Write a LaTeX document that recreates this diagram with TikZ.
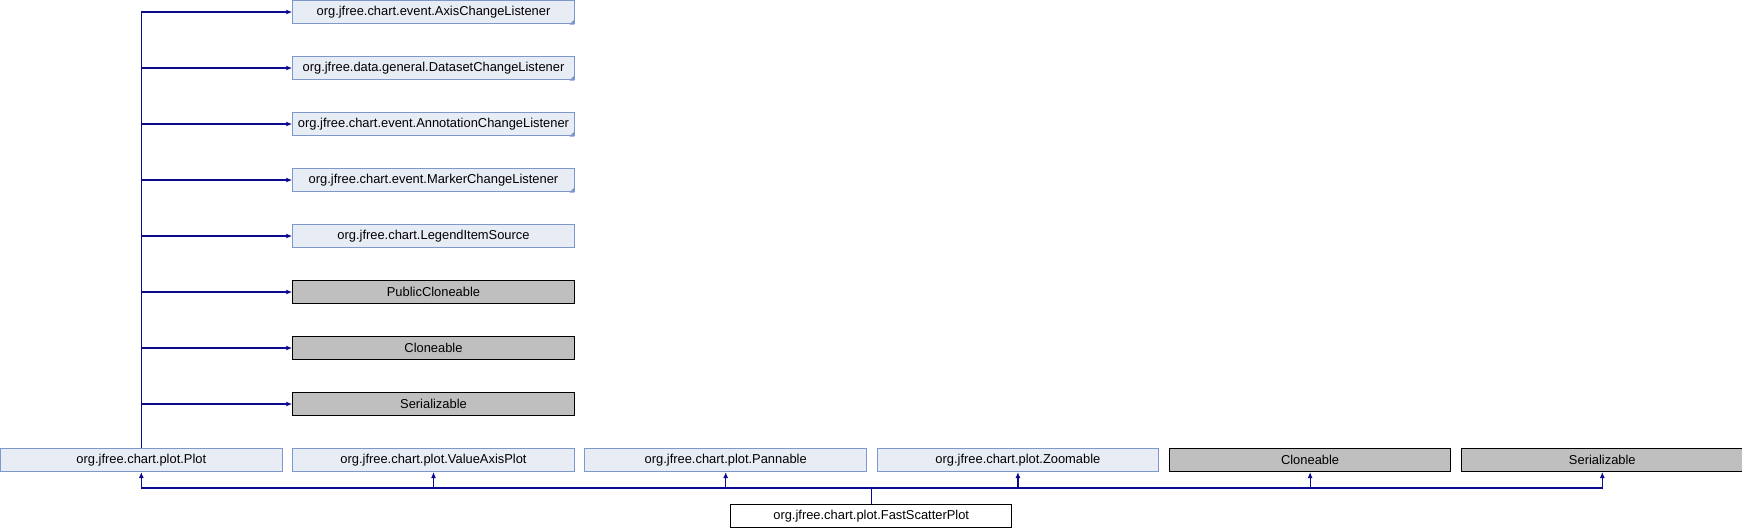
\documentclass[tikz,border=0pt]{standalone}
\usepackage{fontspec}
\setmainfont{Liberation Sans}
\usetikzlibrary{arrows.meta,calc}
\definecolor{edgecol}{HTML}{0B0B8F}
\definecolor{extfill}{HTML}{E8ECF5}
\definecolor{extborder}{HTML}{7C98CC}
\definecolor{greyfill}{HTML}{BFBFBF}
\tikzset{
  box/.style={minimum width=281.5pt, minimum height=23pt, inner sep=0pt, line width=1pt,
    font=\fontsize{12.9pt}{14pt}\selectfont},
  extbox/.style={box, draw=extborder, fill=extfill},
  greybox/.style={box, draw=black, fill=greyfill},
  mainbox/.style={box, draw=black, fill=white},
  edge/.style={draw=edgecol, line width=1.2pt, -{Latex[length=6pt,width=5pt]}},
  corner/.style={fill=extborder}
}
\begin{document}
\begin{tikzpicture}[x=1pt,y=-1pt]
\useasboundingbox (0,0) rectangle (1742,528);
% column of interfaces (x center 433.5)
\node[extbox]  (a1) at (433.5,12)  {org.jfree.chart.event.AxisChangeListener};
\node[extbox]  (a2) at (433.5,68)  {org.jfree.data.general.DatasetChangeListener};
\node[extbox]  (a3) at (433.5,124) {org.jfree.chart.event.AnnotationChangeListener};
\node[extbox]  (a4) at (433.5,180) {org.jfree.chart.event.MarkerChangeListener};
\node[extbox]  (a5) at (433.5,236) {org.jfree.chart.LegendItemSource};
\node[greybox] (a6) at (433.5,292) {PublicCloneable};
\node[greybox] (a7) at (433.5,348) {Cloneable};
\node[greybox] (a8) at (433.5,404) {Serializable};
% row of parents
\node[extbox]  (p1) at (141.3,460)  {org.jfree.chart.plot.Plot};
\node[extbox]  (p2) at (433.5,460)  {org.jfree.chart.plot.ValueAxisPlot};
\node[extbox]  (p3) at (725.7,460)  {org.jfree.chart.plot.Pannable};
\node[extbox]  (p4) at (1017.9,460) {org.jfree.chart.plot.Zoomable};
\node[greybox] (p5) at (1310.1,460) {Cloneable};
\node[greybox] (p6) at (1602.3,460) {Serializable};
% main class
\node[mainbox] (fsp) at (871.2,516) {org.jfree.chart.plot.FastScatterPlot};
% corner marks
\foreach \n in {a1,a2,a3,a4}{
  \fill[corner] ($(\n.south east)+(-5.5pt,-0.5pt)$) -- ($(\n.south east)+(-0.5pt,-0.5pt)$) -- ($(\n.south east)+(-0.5pt,4.5pt)$) -- cycle;
}
% edges from Plot to its interfaces
\foreach \n in {a1,a2,a3,a4,a5,a6,a7,a8}{
  \draw[edge] (p1.north) |- (\n.west);
}
% edges from FastScatterPlot to parents
\coordinate (j) at (871.2,488);
\foreach \n in {p1,p2,p3,p4,p5,p6}{
  \draw[edge] (fsp.north) -- (j) -| (\n.south);
}
\end{tikzpicture}
\end{document}
